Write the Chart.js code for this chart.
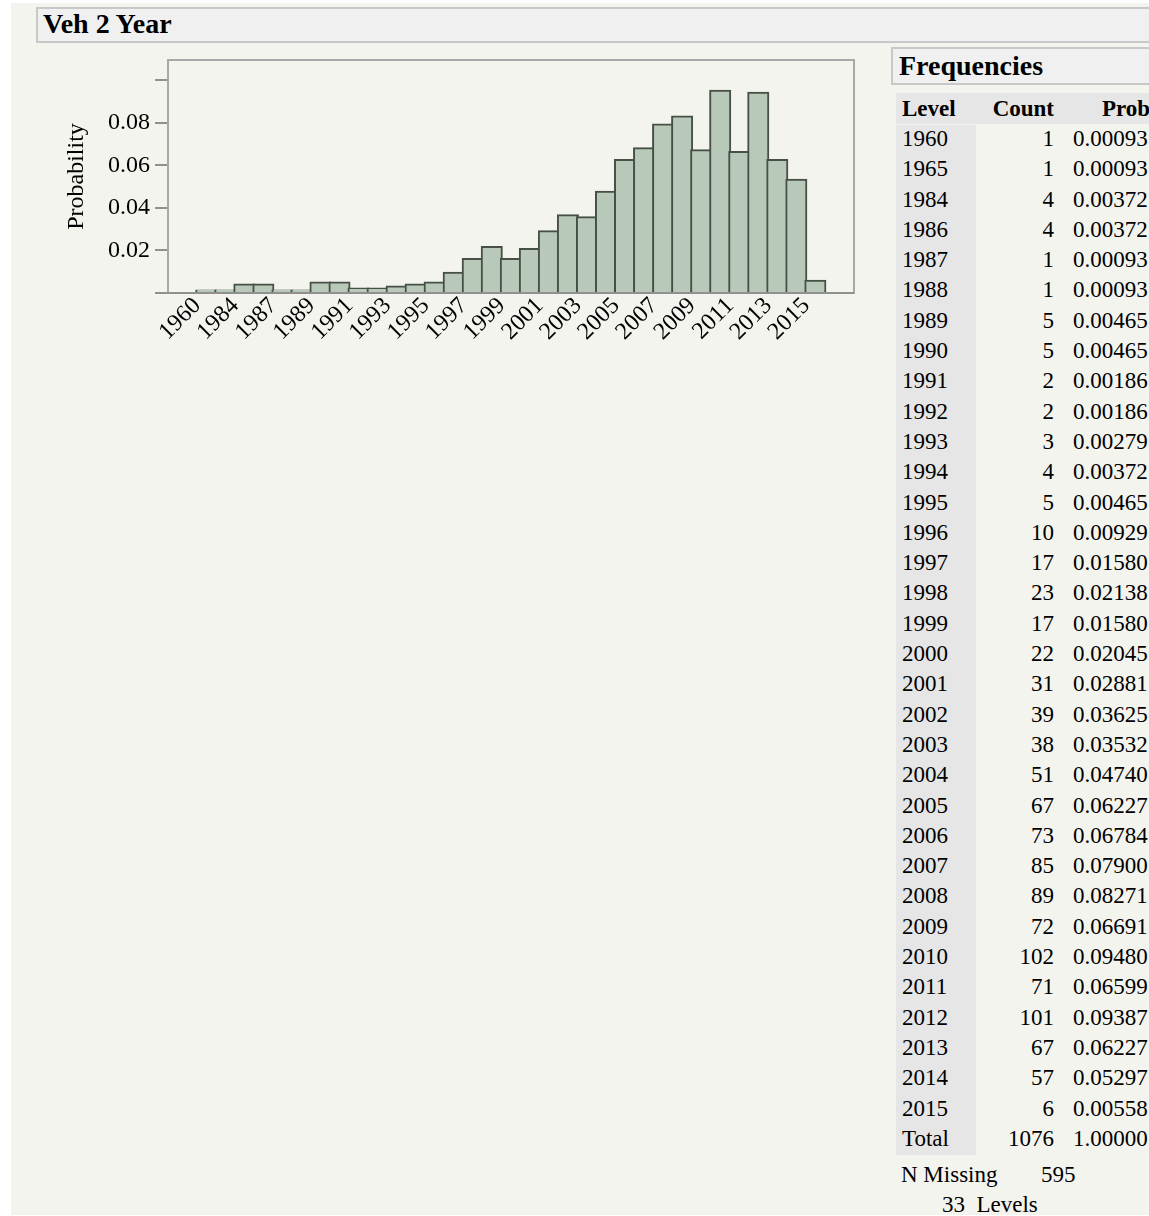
<!DOCTYPE html>
<html>
<head>
<meta charset="utf-8">
<script src="https://cdn.jsdelivr.net/npm/chart.js@4"></script>
<style>
  html, body { margin: 0; padding: 0; background: #fff; overflow: hidden; }
  body { width: 1149px; height: 1216px; position: relative; font-family: "Liberation Serif", "Times New Roman", serif; color: #000; }
  #panel { position: absolute; left: 11px; top: 3px; width: 1138px; height: 1212px; background: #f4f4ef; }
  .titlebox { position: absolute; background: #f0f0f0; border: 2px solid #c8c8c8; box-sizing: border-box; font-weight: bold; font-size: 28px; }
  #hdr { left: 36px; top: 7px; width: 1130px; height: 36px; padding: 0 0 0 5px; line-height: 30px; }
  #freq { left: 891px; top: 47px; width: 280px; height: 38px; padding: 0 0 0 6px; line-height: 33px; }
  #chartWrap { position: absolute; left: 0; top: 0; width: 880px; height: 370px; }
  #tbl { position: absolute; left: 896px; top: 93px; width: 300px; font-size: 23px; }
  .row { position: relative; height: 30.3px; line-height: 30.3px; white-space: nowrap; }
  .row.head { height: 31px; line-height: 31px; font-weight: bold; background: #e6e6e6; width: 260px; }
  .c1 { position: absolute; left: 0; width: 80px; padding-left: 6px; box-sizing: border-box; }
  .c2 { position: absolute; left: 80px; width: 78px; text-align: right; }
  .c3 { position: absolute; left: 177px; }
  .levelbg { position: absolute; left: 896px; top: 125px; width: 80px; height: 1030px; background: #e6e6e6; }
  .foot { position: absolute; font-size: 23px; white-space: nowrap; }
</style>
</head>
<body>
<div id="panel"></div>
<div class="titlebox" id="hdr">Veh 2 Year</div>
<div class="titlebox" id="freq">Frequencies</div>
<div id="chartWrap"><canvas id="hist"></canvas></div>
<div class="levelbg"></div>
<div id="tbl"></div>
<div class="foot" style="left:901px; top:1162px;">N Missing</div>
<div class="foot" style="left:1041px; top:1162px;">595</div>
<div class="foot" style="left:942px; top:1192px;">33&nbsp; Levels</div>
<script>
var levels = ["1960","1965","1984","1986","1987","1988","1989","1990","1991","1992","1993","1994","1995","1996","1997","1998","1999","2000","2001","2002","2003","2004","2005","2006","2007","2008","2009","2010","2011","2012","2013","2014","2015"];
var counts = [1,1,4,4,1,1,5,5,2,2,3,4,5,10,17,23,17,22,31,39,38,51,67,73,85,89,72,102,71,101,67,57,6];
var probs = [0.00093,0.00093,0.00372,0.00372,0.00093,0.00093,0.00465,0.00465,0.00186,0.00186,0.00279,0.00372,0.00465,0.00929,0.01580,0.02138,0.01580,0.02045,0.02881,0.03625,0.03532,0.04740,0.06227,0.06784,0.07900,0.08271,0.06691,0.09480,0.06599,0.09387,0.06227,0.05297,0.00558];
var totalCount = "1076";
var totalProb = "1.00000";
var yTicks = [0, 0.02, 0.04, 0.06, 0.08, 0.10];

function init(){
  // frequency table
  var tbl = document.getElementById("tbl");
  var html = '<div class="row head"><span class="c1">Level</span><span class="c2">Count</span><span class="c3" style="left:206px">Prob</span></div>';
  for (let i=0; i<levels.length; i++){
    html += '<div class="row"><span class="c1">' + levels[i] + '</span><span class="c2">' + counts[i] + '</span><span class="c3">' + probs[i].toFixed(5) + '</span></div>';
  }
  html += '<div class="row"><span class="c1">Total</span><span class="c2">' + totalCount + '</span><span class="c3">' + totalProb + '</span></div>';
  tbl.innerHTML = html;

  var pts = [];
  for (let i=0; i<probs.length; i++) pts.push({x: i, y: probs[i]});

  var frame = {
    id: 'frame',
    afterDraw: function(chart){
      var a = chart.chartArea, c = chart.ctx;
      c.save();
      c.strokeStyle = '#a8a8a8';
      c.lineWidth = 2;
      c.strokeRect(a.left, a.top, a.right - a.left, a.bottom - a.top);
      c.strokeStyle = '#909090';
      c.beginPath(); c.moveTo(a.left - 13, a.bottom); c.lineTo(a.right, a.bottom); c.stroke();
      c.restore();
    }
  };

  new Chart(document.getElementById("hist"), {
    type: "bar",
    data: {
      datasets: [{
        data: pts,
        backgroundColor: '#b9c9b9',
        borderColor: '#465046',
        borderWidth: 2,
        inflateAmount: 1.5,
        barPercentage: 1,
        categoryPercentage: 1
      }]
    },
    plugins: [frame],
    options: {
      responsive: false,
      animation: false,
      devicePixelRatio: 1,
      layout: { padding: { left: 62, top: 60, right: 26, bottom: 0 } },
      plugins: { legend: { display: false }, tooltip: { enabled: false } },
      scales: {
        x: {
          type: 'linear',
          min: -0.95,
          max: 32.97,
          grid: { display: false },
          border: { display: false },
          afterFit: function(s){ s.height = 77; },
          afterBuildTicks: function(s){
            var t = [];
            for (let i=0; i<levels.length; i+=2) t.push({value: i});
            s.ticks = t;
          },
          ticks: {
            autoSkip: false,
            minRotation: 45,
            maxRotation: 45,
            padding: -9,
            labelOffset: -9,
            color: '#000',
            font: { family: "Liberation Serif", size: 24 },
            callback: function(v){ return levels[v]; }
          }
        },
        y: {
          min: 0,
          max: 0.1095,
          afterFit: function(s){ s.width = 106; },
          afterBuildTicks: function(s){ s.ticks = yTicks.map(function(v){ return {value: v}; }); },
          grid: { drawOnChartArea: false, drawTicks: true, tickLength: 13, color: '#909090', lineWidth: 2 },
          border: { display: false },
          title: { display: true, text: 'Probability', color: '#000', padding: 0, font: { family: "Liberation Serif", size: 24 } },
          ticks: {
            padding: 5,
            color: '#000',
            font: { family: "Liberation Serif", size: 24 },
            callback: function(v){ return (v > 0.001 && v < 0.09) ? v.toFixed(2) : ''; }
          }
        }
      }
    }
  });
}
document.getElementById("hist").width = 880;
document.getElementById("hist").height = 370;
window.addEventListener("load", init);
</script>
</body>
</html>
